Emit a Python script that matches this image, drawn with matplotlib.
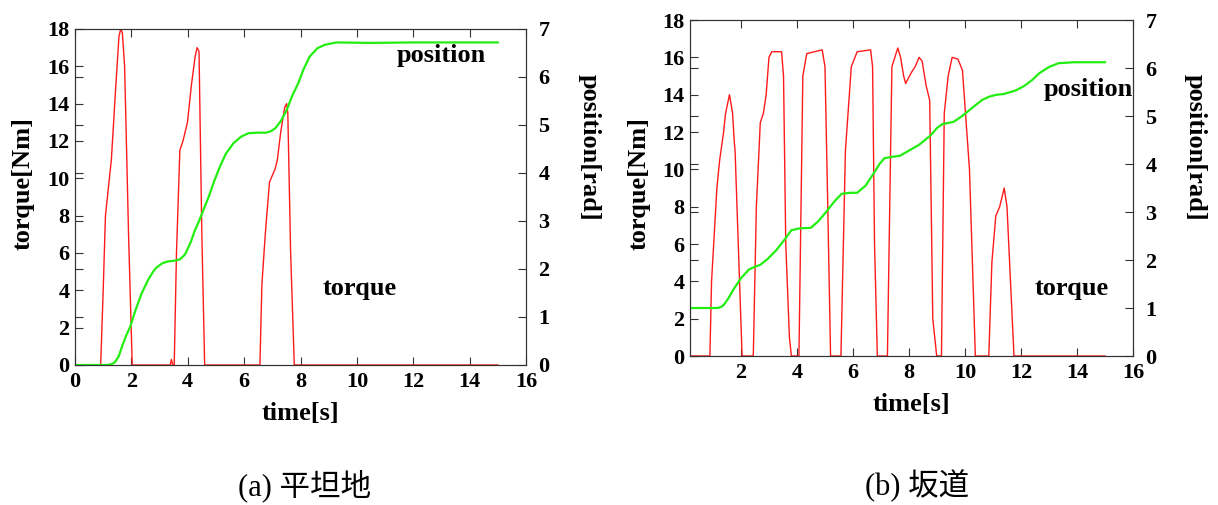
import matplotlib.pyplot as plt
import numpy as np

# (a) flat ground
flat_t = [0, 0.91, 1.0, 1.08, 1.29, 1.45, 1.56, 1.62, 1.68, 1.76, 1.9, 2.03, 3.38, 3.42, 3.47,
          3.52, 3.6, 3.72, 3.83, 3.99, 4.13, 4.26, 4.33, 4.4, 4.5, 4.6, 6.56, 6.63, 6.75, 6.9,
          7.1, 7.18, 7.3, 7.44, 7.51, 7.55, 7.65, 7.78, 15.0]
flat_torque = [0, 0, 4, 8, 11, 15, 17.6, 18, 17.8, 16, 7, 0, 0, 0.3, 0,
               0, 6, 11.5, 12, 13, 15, 16.5, 17, 16.8, 7, 0, 0, 4.3, 7, 9.8,
               10.5, 11, 12.5, 13.8, 14, 13.5, 6, 0, 0]
flat_pt = [0, 1.15, 1.3, 1.42, 1.55, 1.69, 1.82, 1.96, 2.15, 2.37, 2.6, 2.8, 2.91, 3.1,
           3.31, 3.5, 3.72, 3.9, 4.1, 4.25, 4.4, 4.57, 4.74, 4.95, 5.14, 5.35, 5.62, 5.9,
           6.16, 6.5, 6.77, 6.95, 7.1, 7.3, 7.51, 7.7, 7.92, 8.1, 8.32, 8.6, 8.86, 9.27,
           10.5, 12.0, 15.0]
flat_pos = [0, 0, 0.02, 0.06, 0.18, 0.42, 0.62, 0.8, 1.15, 1.5, 1.78, 1.97, 2.04, 2.12,
            2.16, 2.17, 2.2, 2.3, 2.55, 2.8, 3.0, 3.25, 3.5, 3.85, 4.13, 4.4, 4.62, 4.76,
            4.83, 4.84, 4.84, 4.87, 4.93, 5.08, 5.31, 5.6, 5.87, 6.15, 6.42, 6.6, 6.67, 6.72,
            6.71, 6.72, 6.72]

# (b) slope
slope_t = [0.18, 0.89, 0.95, 1.14, 1.24, 1.38, 1.45, 1.52, 1.59, 1.7, 1.76, 1.79, 2.04,
           2.44, 2.55, 2.69, 2.8, 2.9, 3.0, 3.1, 3.45, 3.52, 3.6, 3.73, 3.8,
           4.0, 4.07, 4.21, 4.35, 4.9, 5.0, 5.1, 5.2,
           5.57, 5.73, 5.94, 6.15, 6.63, 6.7, 6.77, 6.87,
           7.23, 7.39, 7.6, 7.7, 7.81, 7.88, 8.09, 8.22, 8.36, 8.47, 8.61, 8.74, 8.85, 8.99,
           9.16, 9.26, 9.4, 9.54, 9.75, 9.91, 10.16, 10.37,
           10.85, 10.96, 11.1, 11.24, 11.4, 11.5, 11.75, 15.0]
slope_torque = [0, 0, 4, 9, 10.5, 12, 13, 13.5, 14, 13, 11.5, 11, 0,
                0, 8, 12.5, 13, 14, 16, 16.3, 16.3, 15, 6, 1, 0,
                0, 0, 15, 16.2, 16.4, 15.5, 8, 0,
                0, 11, 15.5, 16.3, 16.4, 15.5, 6, 0,
                0, 15.5, 16.5, 16, 15, 14.6, 15.2, 15.5, 16, 15.8, 14.5, 13.7, 2, 0,
                0, 13, 15, 16, 15.9, 15.3, 10, 0,
                0, 5, 7.5, 8, 9, 8, 0, 0]
slope_pt = [0.18, 1.17, 1.28, 1.38, 1.55, 1.72, 2.0, 2.28, 2.5, 2.69, 2.95, 3.24, 3.55,
            3.8, 4.1, 4.49, 4.75, 5.04, 5.35, 5.6, 5.9, 6.15, 6.45, 6.7, 6.95, 7.12, 7.4,
            7.67, 8.0, 8.36, 8.78, 9.0, 9.19, 9.6, 9.9, 10.3, 10.6, 10.85, 11.1, 11.4, 11.8,
            12.1, 12.4, 12.65, 13.0, 13.34, 13.9, 15.0]
slope_pos = [1.0, 1.0, 1.02, 1.06, 1.2, 1.375, 1.62, 1.8, 1.86, 1.9, 2.02, 2.19, 2.42,
             2.62, 2.66, 2.67, 2.8, 3.0, 3.23, 3.38, 3.4, 3.4, 3.55, 3.77, 4.0, 4.12, 4.15,
             4.17, 4.28, 4.4, 4.6, 4.75, 4.83, 4.88, 5.0, 5.19, 5.33, 5.4, 5.44, 5.46, 5.53,
             5.62, 5.75, 5.89, 6.02, 6.1, 6.12, 6.12]

captions = ['(a) 平坦地', '(b) 坂道']

plt.rcParams['font.family'] = ['Liberation Serif', 'DejaVu Serif']
plt.rcParams['font.weight'] = 'bold'
plt.rcParams['axes.labelweight'] = 'bold'

fig = plt.figure(figsize=(12.18, 5.05), dpi=100)

RED = '#ff1a1a'
GREEN = '#22ee11'
tfs = 16   # tick labels
lfs = 19   # axis labels / annotations


def panel(rect, t, tq, pt, pos, xmin, xticks, ptxt, ttxt, ly):
    ax = fig.add_axes(rect)
    ax.plot(t, tq, color=RED, lw=1.0)
    ax.set_xlim(xmin, 16)
    ax.set_ylim(0, 18)
    ax.set_xticks(xticks)
    ax.set_yticks(np.arange(0, 19, 2))
    ax.tick_params(direction='in', top=True, right=True, length=6, labelsize=tfs,
                   color='#333333')
    ax.tick_params(axis='x', pad=5)
    ax.tick_params(axis='y', pad=4)
    ax.set_xlabel('time[s]', fontsize=lfs, va='center')
    ax.xaxis.set_label_coords(0.5, -0.143)
    ax.set_ylabel('torque[Nm]', fontsize=lfs, va='center')
    ax.yaxis.set_label_coords(-0.115, ly[0])
    for s in ax.spines.values():
        s.set_color('#333333')

    ax2 = ax.twinx()
    ax2.plot(pt, pos, color=GREEN, lw=1.6)
    ax2.set_ylim(0, 7)
    ax2.set_yticks(range(8))
    ax2.tick_params(direction='in', left=True, right=True, length=6, labelsize=tfs,
                    color='#333333', pad=9)
    ax2.set_ylabel('position[rad]', fontsize=lfs, rotation=270, va='center')
    ax2.yaxis.set_label_coords(1.14, ly[1])
    for s in ax2.spines.values():
        s.set_color('#333333')

    ax.text(ptxt[0], ptxt[1], 'position', fontsize=lfs, ha='center', va='center')
    ax.text(ttxt[0], ttxt[1], 'torque', fontsize=lfs, ha='center', va='center')
    return ax


panel([75 / 1218, 1 - 365 / 505, 451 / 1218, 336 / 505], flat_t, flat_torque,
      flat_pt, flat_pos, 0, range(0, 17, 2), (13.0, 16.6), (10.1, 4.1), (0.539, 0.649))
panel([690 / 1218, 1 - 356 / 505, 443 / 1218, 336 / 505], slope_t, slope_torque,
      slope_pt, slope_pos, 0.18, range(2, 17, 2), (14.4, 14.3), (13.8, 3.6), (0.512, 0.622))

cap_font = ['Liberation Serif', 'Noto Sans CJK JP']
fig.text(304 / 1218, 1 - 486 / 505, captions[0], fontsize=22, ha='center', va='center',
         family=cap_font, weight='normal')
fig.text(917 / 1218, 1 - 486 / 505, captions[1], fontsize=22, ha='center', va='center',
         family=cap_font, weight='normal')

fig.savefig('out.png', dpi=100)
